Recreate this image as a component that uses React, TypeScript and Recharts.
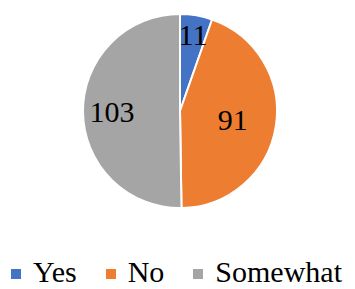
import React from 'react';
import { PieChart, Pie, Cell, Legend } from 'recharts';

const categories = ['Yes', 'No', 'Somewhat'];
const counts = [11, 91, 103];
const colors = ['#4472C4', '#ED7D31', '#A5A5A5'];
// how far out (share of radius) each count label sits
const labelRadius = [0.8, 0.55, 0.7];

const data = categories.map((name, i) => ({ name, value: counts[i] }));

const RADIAN = Math.PI / 180;
const SERIF = 'Liberation Serif';

const renderLabel = (props: any) => {
	const { cx, cy, midAngle, outerRadius, index, value } = props;
	const r = outerRadius * labelRadius[index];
	const x = cx + r * Math.cos(-midAngle * RADIAN);
	const y = cy + r * Math.sin(-midAngle * RADIAN);
	return (
		<text
			x={x}
			y={y}
			fill="#000"
			textAnchor="middle"
			dominantBaseline="central"
			fontFamily={SERIF}
			fontSize={30}
		>
			{value}
		</text>
	);
};

const renderLegend = () => (
	<div style={{ display: 'flex', alignItems: 'center', paddingLeft: 11, fontFamily: SERIF, fontSize: 30, lineHeight: '30px', color: '#000', whiteSpace: 'nowrap' }}>
		{categories.map((c, i) => (
			<div key={c} style={{ display: 'flex', alignItems: 'center', marginRight: 29 }}>
				<span style={{ width: 10, height: 10, background: colors[i], marginRight: 12, marginTop: 4, display: 'inline-block' }} />
				<span>{c}</span>
			</div>
		))}
	</div>
);

export default function App() {
	return (
		<div style={{ position: 'absolute', left: 0, top: 0, width: 355, height: 289, background: '#fff', overflow: 'hidden' }}>
			<PieChart width={355} height={289}>
				<Pie
					data={data}
					dataKey="value"
					nameKey="name"
					cx={175}
					cy={106}
					outerRadius={97}
					startAngle={90}
					endAngle={-270}
					stroke="#fff"
					strokeWidth={2}
					label={renderLabel}
					labelLine={false}
					isAnimationActive={false}
				>
					{data.map((d, i) => (
						<Cell key={d.name} fill={colors[i]} />
					))}
				</Pie>
				<Legend content={renderLegend} wrapperStyle={{ position: 'absolute', left: 0, top: 257, width: 355 }} />
			</PieChart>
		</div>
	);
}
